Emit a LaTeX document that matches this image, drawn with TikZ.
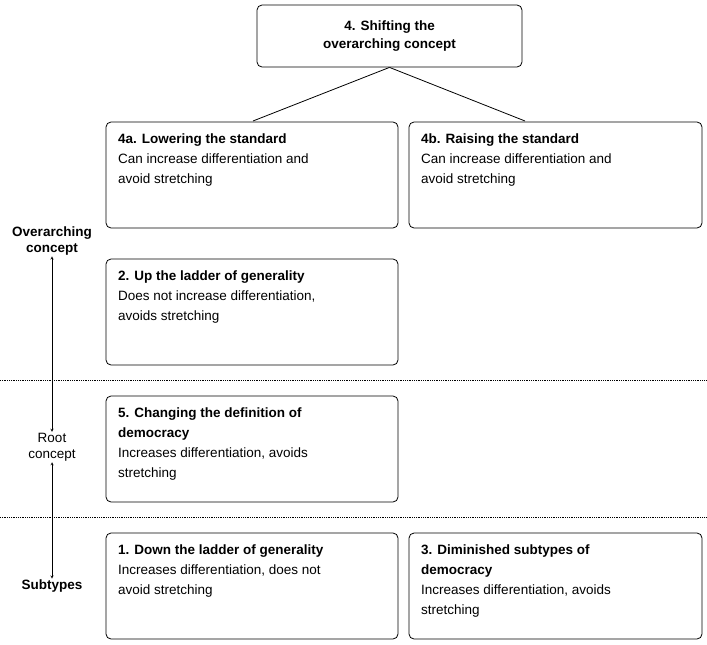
\documentclass[tikz,border=0pt]{standalone}
\usepackage{fontspec}
\setmainfont{Liberation Sans}
\begin{document}
\begin{tikzpicture}[x=1pt,y=-1pt,
  box/.style={draw,thick,rounded corners=5pt},
  txt/.style={anchor=north west,align=left,inner sep=0pt,font=\fontsize{13.5}{20}\selectfont},
  lab/.style={align=center,inner sep=1pt,font=\fontsize{13.5}{16}\selectfont},
  sepline/.style={densely dotted,thick}]
\useasboundingbox (0,0) rectangle (707,645);
\node[box,minimum width=265pt,minimum height=62pt,align=center,font=\bfseries\fontsize{13.5}{18}\selectfont] (top) at (389.5,36) {4. Shifting the\\overarching concept};
\draw[box] (106,122) rectangle (398,228) coordinate (b4a);
\draw[box] (409,122) rectangle (702,228) coordinate (b4b);
\draw[box] (106,259) rectangle (398,365) coordinate (b2);
\draw[box] (106,396) rectangle (398,502) coordinate (b5);
\draw[box] (106,533) rectangle (398,639) coordinate (b1);
\draw[box] (409,533) rectangle (702,639) coordinate (b3);
\coordinate (c4a) at (253,121);
\coordinate (c4b) at (525,121);
\draw[thick] (top.south) -- (c4a);
\draw[thick] (top.south) -- (c4b);
\node[txt] (t4a) at (118,134) {\textbf{4a. Lowering the standard}\\Can increase differentiation and\\avoid stretching};
\node[txt] (t4b) at (421,134) {\textbf{4b. Raising the standard}\\Can increase differentiation and\\avoid stretching};
\node[txt] (t2) at (118,271) {\textbf{2. Up the ladder of generality}\\Does not increase differentiation,\\avoids stretching};
\node[txt] (t5) at (118,408) {\textbf{5. Changing the definition of}\\\textbf{democracy}\\Increases differentiation, avoids\\stretching};
\node[txt] (t1) at (118,545) {\textbf{1. Down the ladder of generality}\\Increases differentiation, does not\\avoid stretching};
\node[txt] (t3) at (421,545) {\textbf{3. Diminished subtypes of}\\\textbf{democracy}\\Increases differentiation, avoids\\stretching};
\draw[sepline] (0,380) -- (707,380);
\draw[sepline] (0,517) -- (707,517);
\node[lab,font=\bfseries\fontsize{13.5}{16}\selectfont] (ov) at (52,241) {Overarching\\concept};
\node[lab] (root) at (52,447) {Root\\concept};
\node[lab,font=\bfseries\fontsize{13.5}{16}\selectfont] (sub) at (52,586) {Subtypes};
\draw[<->,>=stealth] (ov.south) -- (root.north);
\draw[<->,>=stealth] (root.south) -- (sub.north);
\end{tikzpicture}
\end{document}
